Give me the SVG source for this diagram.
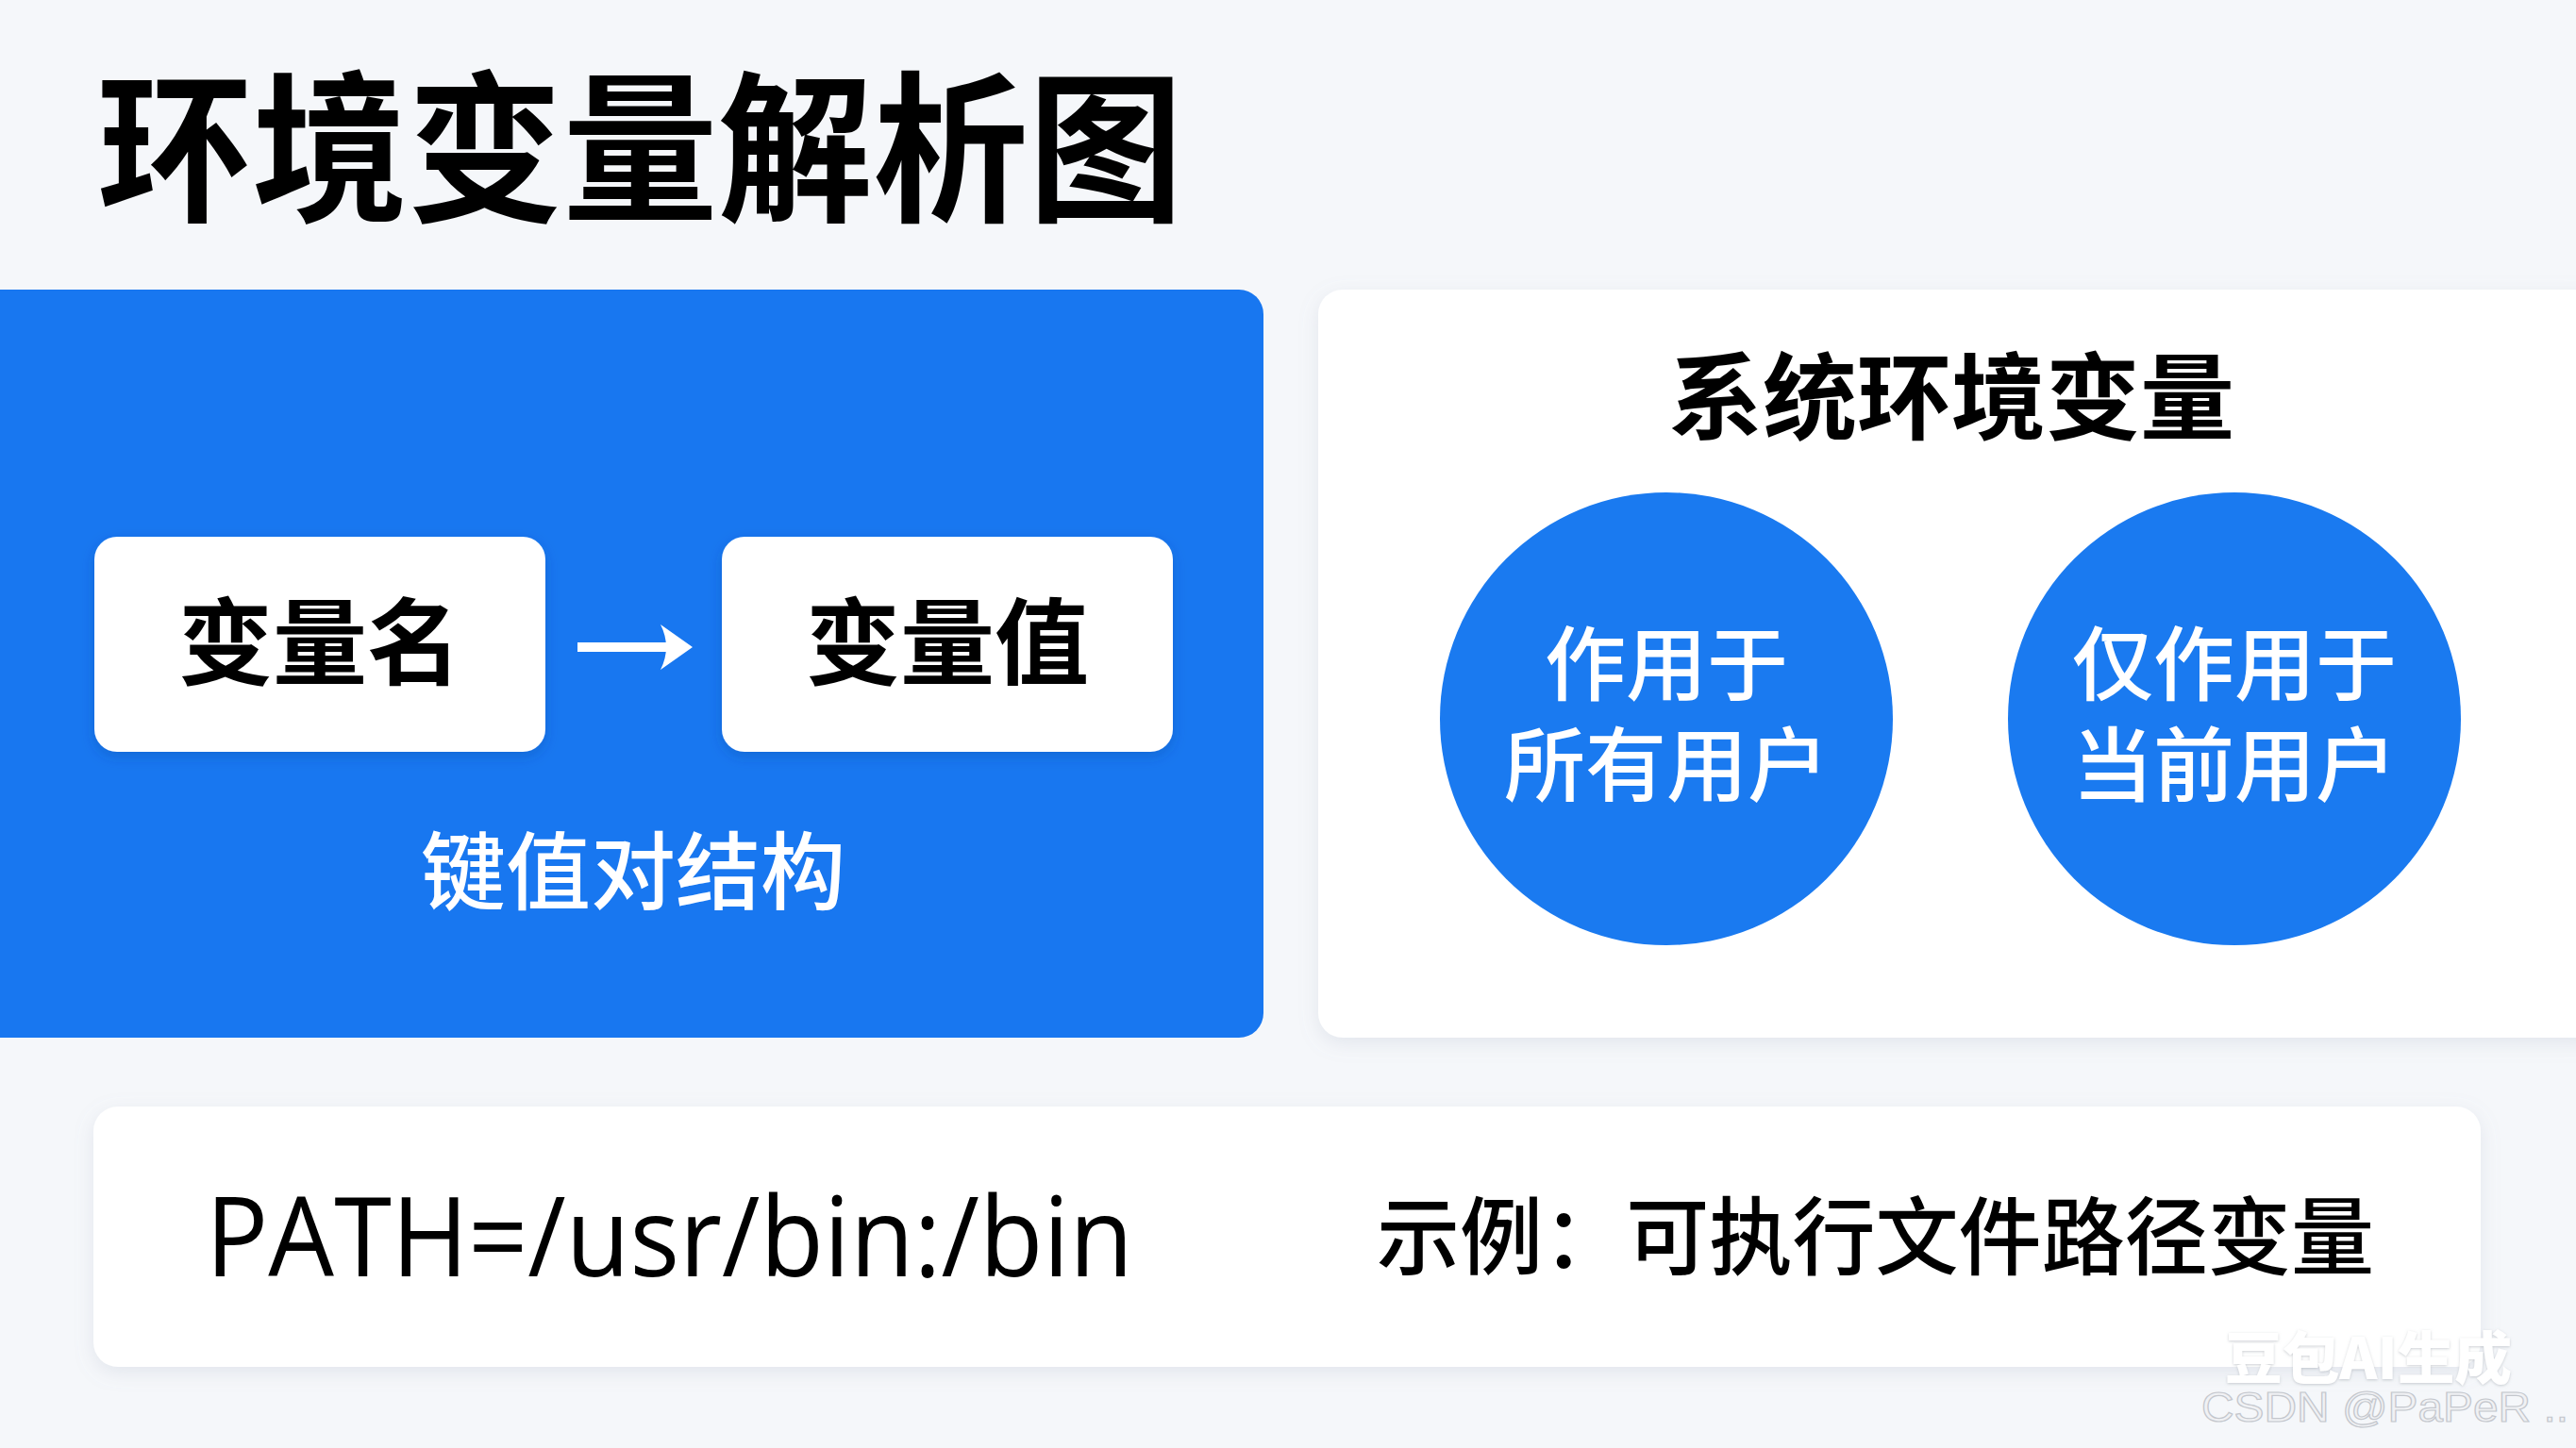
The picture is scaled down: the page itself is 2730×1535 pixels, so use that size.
<svg xmlns="http://www.w3.org/2000/svg" width="2730" height="1535" viewBox="0 0 2730 1535">
<defs>
<filter id="sh" x="-5%" y="-10%" width="110%" height="125%">
<feDropShadow dx="0" dy="6" stdDeviation="10" flood-color="#8a98b0" flood-opacity="0.18"/>
</filter>
<filter id="sh2" x="-10%" y="-10%" width="120%" height="130%">
<feDropShadow dx="0" dy="5" stdDeviation="7" flood-color="#0a3a8a" flood-opacity="0.25"/>
</filter>
<filter id="wm" x="-10%" y="-30%" width="120%" height="160%">
<feDropShadow dx="0" dy="1" stdDeviation="1.5" flood-color="#9aa0a8" flood-opacity="0.5"/>
</filter>
<style>
.cjk{font-family:"Noto Sans CJK SC","Noto Sans",sans-serif;}
.title{font-size:172px;font-weight:700;fill:#000;}
.box{fill:#fff;}
.boxt{font-size:100px;font-weight:700;fill:#000;}
.wt{fill:#fff;}
.circ{fill:#1a7af0;}
.ct{font-size:86px;font-weight:500;fill:#fff;}
</style>
</defs>
<rect x="0" y="0" width="2730" height="1535" fill="#f5f7fa"/>
<g id="title"><text class="cjk title" x="103" y="221" textLength="1151" lengthAdjust="spacingAndGlyphs">环境变量解析图</text></g>
<g id="kv-panel">
<path d="M0 307 H1313 A26 26 0 0 1 1339 333 V1074 A26 26 0 0 1 1313 1100 H0 Z" fill="#1877f0"/>
<text class="cjk wt" x="671" y="957" font-size="90" font-weight="500" text-anchor="middle">键值对结构</text>
</g>
<g id="node-name">
<rect class="box" x="100" y="569" width="478" height="228" rx="24" filter="url(#sh2)"/>
<text class="cjk boxt" x="339" y="718" text-anchor="middle">变量名</text>
</g>
<g id="node-value">
<rect class="box" x="765" y="569" width="478" height="228" rx="24" filter="url(#sh2)"/>
<text class="cjk boxt" x="1004" y="718" text-anchor="middle">变量值</text>
</g>
<g id="connectors">
<line x1="612" y1="686" x2="722" y2="686" stroke="#fff" stroke-width="10"/>
<path d="M700 662 L734 686 L700 710 Q712 686 700 662 Z" fill="#fff"/>
</g>
<g id="sys-panel">
<rect x="1397" y="307" width="1363" height="793" rx="26" fill="#fff" filter="url(#sh)"/>
<text class="cjk" x="2068" y="458" font-size="100" font-weight="700" fill="#000" text-anchor="middle">系统环境变量</text>
</g>
<g id="node-all-users">
<circle class="circ" cx="1766" cy="762" r="240"/>
<text class="cjk ct" x="1766" y="736" text-anchor="middle">作用于</text>
<text class="cjk ct" x="1766" y="843" text-anchor="middle">所有用户</text>
</g>
<g id="node-current-user">
<circle class="circ" cx="2368" cy="762" r="240"/>
<text class="cjk ct" x="2368" y="736" text-anchor="middle">仅作用于</text>
<text class="cjk ct" x="2368" y="843" text-anchor="middle">当前用户</text>
</g>
<g id="example-panel">
<rect x="99" y="1173" width="2530" height="276" rx="26" fill="#fff" filter="url(#sh)"/>
<text x="218" y="1353" font-family="'Open Sans','Liberation Sans',sans-serif" font-size="118" fill="#000" textLength="983" lengthAdjust="spacingAndGlyphs">PATH=/usr/bin:/bin</text>
<text class="cjk" x="1459" y="1344" font-size="90" font-weight="500" fill="#000" textLength="1057" lengthAdjust="spacingAndGlyphs">示例：可执行文件路径变量</text>
</g>
<g id="watermark">
<text class="cjk" x="2358" y="1462" font-size="60" font-weight="900" fill="#ffffff" filter="url(#wm)" textLength="304" lengthAdjust="spacingAndGlyphs">豆包AI生成</text>
<text x="2333" y="1507" font-family="'Liberation Sans',sans-serif" font-size="44" fill="#f0f1f4" stroke="#c4c7cd" stroke-width="1.2" textLength="389" lengthAdjust="spacingAndGlyphs">CSDN @PaPeR ..</text>
</g>
</svg>
